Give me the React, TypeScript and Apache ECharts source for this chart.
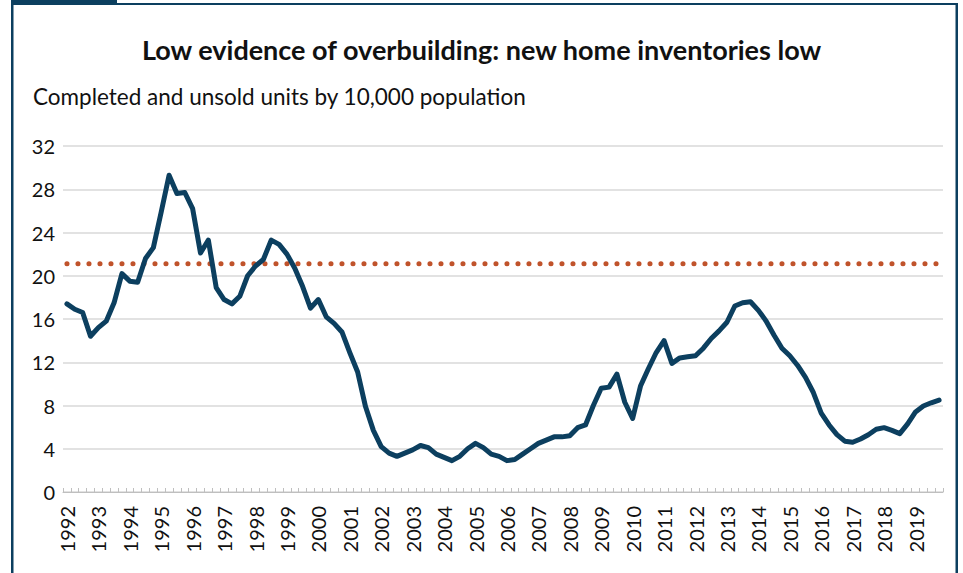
import React, { useEffect, useRef } from "react";
import * as echarts from "echarts";

const years: string[] = [
  "1992", "1993", "1994", "1995", "1996", "1997", "1998", "1999", "2000", "2001",
  "2002", "2003", "2004", "2005", "2006", "2007", "2008", "2009", "2010", "2011",
  "2012", "2013", "2014", "2015", "2016", "2017", "2018", "2019",
];
const quarters: string[] = ["Q1", "Q2", "Q3", "Q4"];

// Completed and unsold units per 10,000 population, quarterly 1992Q1-2019Q4
const inventory: number[] = [
  17.4, 16.9, 16.6, 14.4, 15.2, 15.8, 17.5, 20.2,
  19.5, 19.4, 21.6, 22.6, 25.9, 29.3, 27.6, 27.7,
  26.2, 22.1, 23.3, 18.9, 17.8, 17.4, 18.1, 20.0,
  20.9, 21.5, 23.3, 22.9, 22.0, 20.7, 19.0, 17.0,
  17.8, 16.2, 15.6, 14.8, 12.9, 11.1, 7.9, 5.7,
  4.2, 3.6, 3.3, 3.6, 3.9, 4.3, 4.1, 3.5,
  3.2, 2.9, 3.3, 4.0, 4.5, 4.1, 3.5, 3.3,
  2.9, 3.0, 3.5, 4.0, 4.5, 4.8, 5.1, 5.1,
  5.2, 5.95, 6.2, 8.0, 9.6, 9.7, 10.9, 8.3,
  6.8, 9.8, 11.4, 12.9, 14.0, 11.9, 12.4, 12.5,
  12.6, 13.3, 14.2, 14.9, 15.7, 17.2, 17.5, 17.6,
  16.8, 15.8, 14.5, 13.3, 12.6, 11.7, 10.6, 9.2,
  7.3, 6.2, 5.3, 4.7, 4.6, 4.9, 5.3, 5.8,
  5.95, 5.7, 5.4, 6.3, 7.4, 7.95, 8.25, 8.5,
];

// Long-run average reference level
const longRunAverage = 21.1;

const yTicks: number[] = [0, 4, 8, 12, 16, 20, 24, 28, 32];

const titleText = "Low evidence of overbuilding: new home inventories low";
const subtitleText = "Completed and unsold units by 10,000 population";

const NAVY = "#0c3f5f";
const FONT = "Lato, 'Open Sans', sans-serif";

export default function App() {
  const ref = useRef<HTMLDivElement>(null);

  useEffect(() => {
    if (!ref.current) return;
    document.body.style.margin = "0";
    const chart = echarts.init(ref.current, undefined, { renderer: "svg" });
    const categories: string[] = [];
    years.forEach((y) => quarters.forEach((q) => categories.push(y + " " + q)));

    chart.setOption({
      animation: false,
      backgroundColor: "#ffffff",
      title: {
        text: titleText,
        left: "center",
        top: 31,
        textStyle: {
          fontFamily: FONT,
          fontSize: 27,
          fontWeight: "bold",
          color: "#111111",
        },
      },
      graphic: [
        { type: "rect", shape: { x: 11, y: 0, width: 2.5, height: 573 }, style: { fill: NAVY } },
        { type: "rect", shape: { x: 955.5, y: 3, width: 2.5, height: 570 }, style: { fill: NAVY } },
        { type: "rect", shape: { x: 11, y: 3, width: 947, height: 2 }, style: { fill: NAVY } },
        { type: "rect", shape: { x: 11, y: 0, width: 106, height: 5 }, style: { fill: NAVY } },
        {
          type: "text",
          left: 33,
          top: 85,
          style: {
            text: subtitleText,
            fontFamily: FONT,
            fontSize: 22.5,
            fill: "#111111",
          },
        },
      ],
      grid: { left: 63, right: 20, top: 146, bottom: 81, containLabel: false },
      xAxis: {
        type: "category",
        data: categories,
        boundaryGap: true,
        axisLine: { show: true, lineStyle: { color: "#bfbfbf", width: 1 } },
        axisTick: {
          show: true,
          inside: true,
          interval: 0,
          length: 4,
          lineStyle: { color: "#bfbfbf" },
        },
        axisLabel: {
          interval: 3,
          rotate: 90,
          margin: 14,
          fontFamily: FONT,
          fontSize: 20,
          color: "#111111",
          formatter: (v: string) => v.split(" ")[0],
        },
        splitLine: { show: false },
      },
      yAxis: {
        type: "value",
        min: yTicks[0],
        max: yTicks[yTicks.length - 1],
        interval: 4,
        axisLine: { show: false },
        axisTick: { show: false },
        axisLabel: {
          margin: 8,
          fontFamily: FONT,
          fontSize: 20,
          color: "#111111",
        },
        splitLine: { show: true, lineStyle: { color: "#d9d9d9", width: 1.5 } },
      },
      series: [
        {
          name: "Long-run average",
          type: "line",
          data: categories.map(() => longRunAverage),
          symbol: "none",
          z: 1,
          lineStyle: {
            color: "#c0532b",
            width: 5,
            type: [0.1, 10.9],
            cap: "round",
          },
        },
        {
          name: "Inventory",
          type: "line",
          data: inventory,
          symbol: "none",
          z: 2,
          lineStyle: { color: NAVY, width: 5, join: "round", cap: "round" },
        },
      ],
    });

    return () => chart.dispose();
  }, []);

  return (
    <div
      ref={ref}
      style={{ position: "absolute", left: 0, top: 0, width: 963, height: 573 }}
    />
  );
}
